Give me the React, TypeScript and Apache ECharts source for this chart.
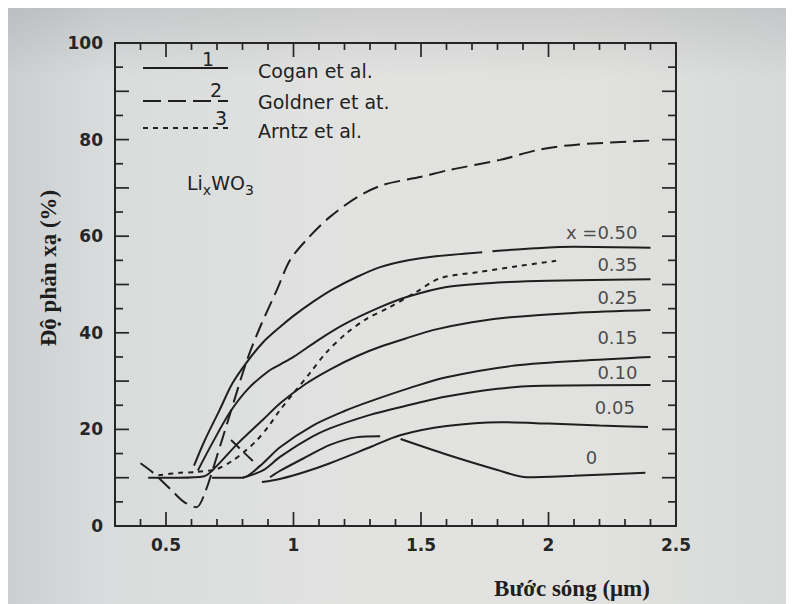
import React, { useEffect, useRef } from 'react';
import * as echarts from 'echarts';

// ---- data ----
const xMajorTicks = [0.5, 1, 1.5, 2];
const xTickValues = [0.4, 0.5, 0.6, 0.7, 0.8, 0.9, 1, 1.1, 1.2, 1.3, 1.4, 1.5, 1.6, 1.7, 1.8, 1.9, 2, 2.1, 2.2, 2.3, 2.4];
const yTickValues = [5, 10, 15, 20, 25, 30, 35, 40, 45, 50, 55, 60, 65, 70, 75, 80, 85, 90, 95];
const yMajorTicks = [10, 20, 30, 40, 50, 60, 70, 80, 90];
const xLabelValues = [0.5, 1, 1.5, 2, 2.5];
const yLabelValues = [0, 20, 40, 60, 80, 100];

const cogan050a = [[0.61, 12.5], [0.65, 17.5], [0.71, 24], [0.76, 29.5], [0.818, 34], [0.88, 38], [0.947, 41.2], [1.0, 43.5], [1.076, 46.4], [1.15, 48.9], [1.25, 51.6], [1.34, 53.6], [1.45, 55], [1.55, 55.8], [1.74, 56.7]];
const cogan050b = [[1.78, 56.9], [1.95, 57.5], [2.1, 57.8], [2.4, 57.6]];
const cogan035 = [[0.625, 11.5], [0.68, 17], [0.75, 23.5], [0.82, 28.3], [0.9, 32], [0.95, 33.5], [1.0, 35], [1.1, 38.6], [1.2, 41.8], [1.34, 45.3], [1.45, 47.5], [1.6, 49.5], [1.8, 50.4], [2.0, 50.8], [2.4, 51.1]];
const cogan025 = [[0.43, 10], [0.55, 10], [0.65, 10.3], [0.7, 12.5], [0.78, 17], [0.88, 22], [0.95, 25.5], [1.05, 29.5], [1.15, 32.6], [1.25, 35.2], [1.34, 37.1], [1.45, 39], [1.55, 40.6], [1.7, 42.2], [1.85, 43.2], [2.1, 44.1], [2.4, 44.7]];
const cogan015 = [[0.68, 10], [0.8, 10], [0.87, 12.5], [0.947, 16.3], [1.076, 20.8], [1.2, 23.8], [1.3, 25.8], [1.457, 28.6], [1.6, 30.8], [1.85, 33.1], [2.12, 34.2], [2.4, 35]];
const cogan010 = [[0.8, 10], [0.88, 11.5], [0.947, 14.3], [1.05, 17.8], [1.143, 20.2], [1.3, 23], [1.418, 24.6], [1.6, 26.8], [1.8, 28.4], [1.94, 29], [2.4, 29.2]];
const cogan005 = [[0.876, 9.1], [0.95, 9.8], [1.05, 11.3], [1.143, 13], [1.3, 16.3], [1.418, 18.8], [1.6, 20.7], [1.81, 21.5], [2.0, 21.2], [2.2, 20.8], [2.39, 20.5]];
const cogan0a = [[0.908, 10.1], [0.95, 11.5], [1.05, 14.3], [1.143, 16.8], [1.25, 18.4], [1.34, 18.6]];
const cogan0b = [[1.42, 18], [1.6, 14.8], [1.8, 11.6], [1.916, 10.1], [2.1, 10.4], [2.38, 11]];
const goldner = [[0.4, 13], [0.45, 11], [0.52, 7.5], [0.57, 5], [0.62, 3.9], [0.65, 6.5], [0.7, 14.5], [0.75, 23], [0.818, 34.4], [0.869, 41.2], [0.935, 48.9], [0.986, 55], [1.05, 59.2], [1.143, 64], [1.25, 68.1], [1.35, 70.6], [1.5, 72.3], [1.61, 73.7], [1.81, 75.8], [1.97, 78], [2.12, 79], [2.4, 79.8]];
const goldnerShort = [[0.755, 17.8], [0.8, 15.5], [0.85, 13]];
const arntz = [[0.47, 10.5], [0.55, 11], [0.62, 11.2], [0.7, 11.8], [0.76, 13.5], [0.81, 15.5], [0.857, 17.8], [0.9, 20.5], [0.947, 24], [1.0, 27.5], [1.065, 31.7], [1.13, 36], [1.21, 40], [1.29, 43], [1.37, 45.1], [1.48, 48.4], [1.575, 51.3], [1.73, 52.6], [1.88, 53.8], [2.03, 54.9]];

const fractionLabels = ['x =0.50', '0.35', '0.25', '0.15', '0.10', '0.05', '0'];
const fractionCurves = [cogan050b, cogan035, cogan025, cogan015, cogan010, cogan005, cogan0b];

const legendNames = ['Cogan et al.', 'Goldner et at.', 'Arntz et al.'];
const legendNumbers = ['1', '2', '3'];

// ---- styling ----
const INK = '#1f1f1f';
const AX = '#262626';
const SANS = 'DejaVu Sans';
const SERIF = 'Liberation Serif';
const X_MIN = 0.3;
const X_MAX = 2.5;
const labelNudge = [[-13, -6], [-13, -5], [-13, -3], [-13, -10], [-13, -3], [-13, -10], [-54, -6]];
// the chart div sits at the page's 8px body margin; graphic coordinates are chart-local
const OFF = 8;

export default function App() {
  const ref = useRef<HTMLDivElement>(null);
  useEffect(() => {
    if (!ref.current) return;
    const chart = echarts.init(ref.current, undefined, { renderer: 'svg' });

    const solid = { color: INK, width: 2 };
    const mkLine = (name: string, data: number[][], lineStyle: any) => ({
      type: 'line', name, data, xAxisIndex: 0, yAxisIndex: 0,
      showSymbol: false, symbol: 'none', smooth: 0.3,
      lineStyle, itemStyle: { color: INK },
    });

    // frame ticks (inside, on all four sides), placed through the axes' scales
    const tickData = [
      ...xTickValues.map((v) => [v, 0, xMajorTicks.includes(v) ? 14 : 7]),
      ...yTickValues.map((v) => [X_MIN, v, yMajorTicks.includes(v) ? 14 : 8]),
    ];
    const tickSeries = {
      type: 'custom', name: 'ticks', xAxisIndex: 0, yAxisIndex: 0, silent: true,
      data: tickData,
      renderItem: (params: any, api: any) => {
        const a = api.value(0);
        const b = api.value(1);
        const len = api.value(2);
        const style = { stroke: AX, lineWidth: 1.7 };
        if (params.dataIndex < xTickValues.length) {
          const bot = api.coord([a, 0]);
          const top = api.coord([a, 100]);
          return {
            type: 'group',
            children: [
              { type: 'line', shape: { x1: bot[0], y1: bot[1], x2: bot[0], y2: bot[1] - len }, style },
              { type: 'line', shape: { x1: top[0], y1: top[1], x2: top[0], y2: top[1] + len }, style },
            ],
          };
        }
        const l = api.coord([X_MIN, b]);
        const r = api.coord([X_MAX, b]);
        return {
          type: 'group',
          children: [
            { type: 'line', shape: { x1: l[0], y1: l[1], x2: l[0] + len, y2: l[1] }, style },
            { type: 'line', shape: { x1: r[0], y1: r[1], x2: r[0] - len, y2: r[1] }, style },
          ],
        };
      },
    };

    const series: any[] = [
      tickSeries,
      mkLine(legendNames[0], cogan050a, solid),
      mkLine(legendNames[0], cogan050b, solid),
      mkLine(legendNames[0], cogan035, solid),
      mkLine(legendNames[0], cogan025, solid),
      mkLine(legendNames[0], cogan015, solid),
      mkLine(legendNames[0], cogan010, solid),
      mkLine(legendNames[0], cogan005, solid),
      mkLine(legendNames[0], cogan0a, solid),
      mkLine(legendNames[0], cogan0b, solid),
      mkLine(legendNames[1], goldner, { color: INK, width: 2, type: [16, 7] }),
      mkLine(legendNames[1], goldnerShort, { color: INK, width: 2, type: [12, 6] }),
      mkLine(legendNames[2], arntz, { color: INK, width: 2, type: [5, 5] }),
      {
        type: 'scatter', name: 'x', xAxisIndex: 0, yAxisIndex: 0,
        symbolSize: 1, itemStyle: { color: 'rgba(0,0,0,0)' },
        data: fractionCurves.map((c, i) => ({
          name: fractionLabels[i],
          value: c[c.length - 1],
          label: {
            show: true, position: 'top', distance: 0,
            align: i === fractionLabels.length - 1 ? 'center' : 'right',
            offset: labelNudge[i],
          },
        })),
        label: {
          show: true, formatter: (p: any) => p.name,
          fontFamily: SANS, fontSize: 18, color: '#222',
        },
      },
    ];

    const xAxes = [
      {
        type: 'value', min: X_MIN, max: X_MAX, interval: 0.1, position: 'bottom',
        axisLine: { show: true, onZero: false, lineStyle: { color: AX, width: 2 } },
        axisTick: { show: false },
        splitLine: { show: false },
        axisLabel: {
          show: true, margin: 10, fontFamily: SANS, fontWeight: 'bold', fontSize: 17, color: AX,
          formatter: (v: number) => {
            const r = Math.round(v * 10);
            return xLabelValues.some((t) => Math.round(t * 10) === r) ? String(r / 10) : '';
          },
        },
      },
      {
        type: 'value', min: X_MIN, max: X_MAX, position: 'top',
        axisLine: { show: true, onZero: false, lineStyle: { color: AX, width: 2 } },
        axisTick: { show: false },
        axisLabel: { show: false },
        splitLine: { show: false },
      },
    ];

    const yAxes = [
      {
        type: 'value', min: 0, max: 100, interval: 10, position: 'left',
        axisLine: { show: true, onZero: false, lineStyle: { color: AX, width: 2 } },
        axisTick: { show: false },
        splitLine: { show: false },
        axisLabel: {
          show: true, margin: 12, fontFamily: SANS, fontWeight: 'bold', fontSize: 17, color: AX,
          formatter: (v: number) => (yLabelValues.includes(Math.round(v)) ? String(Math.round(v)) : ''),
        },
      },
      {
        type: 'value', min: 0, max: 100, interval: 10, position: 'right',
        axisLine: { show: true, onZero: false, lineStyle: { color: AX, width: 2 } },
        axisTick: { show: false },
        axisLabel: { show: false },
        splitLine: { show: false },
      },
    ];

    const txt = (x: number, y: number, text: string, fontSize: number, align = 'left') => ({
      type: 'text', x: x - OFF, y: y - OFF,
      style: { text, fontFamily: SANS, fontSize, fill: '#222', align, verticalAlign: 'middle' },
    });
    const seg = (x1: number, y1: number, x2: number, y2: number, dash?: number[]) => ({
      type: 'line',
      shape: { x1: x1 - OFF, y1: y1 - OFF, x2: x2 - OFF, y2: y2 - OFF },
      style: dash ? { stroke: INK, lineWidth: 2, lineDash: dash } : { stroke: INK, lineWidth: 2 },
    });

    chart.setOption({
      animation: false,
      grid: { left: 115 - OFF, right: 126, top: 43 - OFF, bottom: 86 },
      xAxis: xAxes,
      yAxis: yAxes,
      series,
      graphic: [
        // paper background
        {
          type: 'rect', z: -100, silent: true,
          shape: { x: 0, y: 0, width: 794, height: 604 },
          style: {
            fill: new echarts.graphic.LinearGradient(0, 0, 1, 0, [
              { offset: 0, color: '#cbcfd2' },
              { offset: 0.12, color: '#d9dcdc' },
              { offset: 0.45, color: '#e2e3e1' },
              { offset: 0.75, color: '#e1e2df' },
              { offset: 1, color: '#d6d9d9' },
            ]),
          },
        },
        {
          type: 'rect', z: -99, silent: true,
          shape: { x: 0, y: 0, width: 794, height: 70 },
          style: {
            fill: new echarts.graphic.LinearGradient(0, 0, 0, 1, [
              { offset: 0, color: 'rgba(110,110,118,0.18)' },
              { offset: 1, color: 'rgba(110,110,118,0)' },
            ]),
          },
        },
        // legend
        seg(143, 68, 228, 68),
        seg(143, 101, 228, 101, [18, 7]),
        seg(143, 128, 230, 128, [5, 5]),
        txt(208, 59, legendNumbers[0], 19, 'center'),
        txt(216, 90, legendNumbers[1], 19, 'center'),
        txt(221, 118, legendNumbers[2], 19, 'center'),
        txt(258, 71, legendNames[0], 19),
        txt(258, 102, legendNames[1], 19),
        txt(258, 131, legendNames[2], 19),
        // compound label
        {
          type: 'text', x: 187 - OFF, y: 183 - OFF,
          style: {
            text: '{n|Li}{s|x}{n|WO}{s|3}', align: 'left', verticalAlign: 'middle',
            rich: {
              n: { fontFamily: SANS, fontSize: 19, fill: '#222', lineHeight: 28, verticalAlign: 'middle' },
              s: { fontFamily: SANS, fontSize: 14, fill: '#222', lineHeight: 28, verticalAlign: 'bottom' },
            },
          },
        },
        // axis titles
        {
          type: 'text', x: 48 - OFF, y: 268 - OFF, rotation: Math.PI / 2,
          style: { text: 'Độ phản xạ (%)', fontFamily: SERIF, fontWeight: 'bold', fontSize: 23, fill: '#1e1e1e', align: 'center', verticalAlign: 'middle' },
        },
        {
          type: 'text', x: 572 - OFF, y: 588 - OFF,
          style: { text: 'Bước sóng (μm)', fontFamily: SERIF, fontWeight: 'bold', fontSize: 23, fill: '#1e1e1e', align: 'center', verticalAlign: 'middle' },
        },
      ],
    });
    return () => chart.dispose();
  }, []);

  return <div ref={ref} style={{ width: 794, height: 604 }} />;
}
